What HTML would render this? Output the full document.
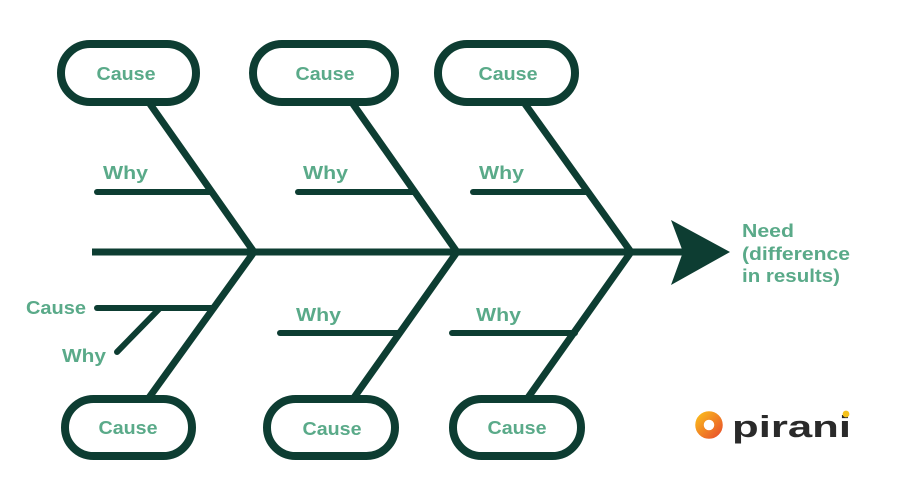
<!DOCTYPE html>
<html><head><meta charset="utf-8"><style>
html,body{margin:0;padding:0;background:#fff;}
svg{display:block;}
text{font-family:"Liberation Sans",sans-serif;font-weight:bold;fill:#5aaa89;font-size:18.5px;}
</style></head><body>
<svg width="900" height="500" viewBox="0 0 900 500" xmlns="http://www.w3.org/2000/svg">
<defs>
<linearGradient id="g" x1="0" y1="0" x2="1" y2="1">
<stop offset="0" stop-color="#f9b21d"/><stop offset="1" stop-color="#ea5a2a"/>
</linearGradient>
</defs>
<g fill="none" stroke="#0d3d32" stroke-width="8">
<rect x="61" y="44" width="135" height="58" rx="29"/>
<rect x="253" y="44" width="142" height="58" rx="29"/>
<rect x="438" y="44" width="137" height="58" rx="29"/>
<rect x="65" y="399" width="127" height="57" rx="28.5"/>
<rect x="267" y="399" width="128" height="57" rx="28.5"/>
<rect x="453" y="399" width="128" height="57" rx="28.5"/>
</g>
<g stroke="#0d3d32" stroke-width="7" stroke-linecap="butt" fill="none">
<line x1="92" y1="252" x2="690" y2="252"/>
<line x1="150" y1="104" x2="254" y2="252"/>
<line x1="353" y1="104" x2="457" y2="252"/>
<line x1="525" y1="104" x2="631" y2="252"/>
<line x1="254" y1="252" x2="148" y2="399"/>
<line x1="457" y1="252" x2="353" y2="399"/>
<line x1="631" y1="252" x2="527" y2="399"/>
</g>
<g stroke="#0d3d32" stroke-width="6" stroke-linecap="round" fill="none">
<line x1="97" y1="192" x2="212" y2="192"/>
<line x1="298" y1="192" x2="415" y2="192"/>
<line x1="473" y1="192" x2="588" y2="192"/>
<line x1="280" y1="333" x2="399" y2="333"/>
<line x1="452" y1="333" x2="575" y2="333"/>
<line x1="97" y1="308" x2="214" y2="308"/>
<line x1="160" y1="308" x2="117" y2="352"/>
</g>
<polygon points="671,220 730,252 671,285 683,252" fill="#0d3d32"/>

<text x="126" y="80" text-anchor="middle" textLength="59" lengthAdjust="spacingAndGlyphs">Cause</text>
<text x="325" y="80" text-anchor="middle" textLength="59" lengthAdjust="spacingAndGlyphs">Cause</text>
<text x="508" y="80" text-anchor="middle" textLength="59" lengthAdjust="spacingAndGlyphs">Cause</text>
<text x="128" y="434" text-anchor="middle" textLength="59" lengthAdjust="spacingAndGlyphs">Cause</text>
<text x="332" y="435" text-anchor="middle" textLength="59" lengthAdjust="spacingAndGlyphs">Cause</text>
<text x="517" y="434" text-anchor="middle" textLength="59" lengthAdjust="spacingAndGlyphs">Cause</text>

<text x="103" y="179" textLength="45" lengthAdjust="spacingAndGlyphs">Why</text>
<text x="303" y="179" textLength="45" lengthAdjust="spacingAndGlyphs">Why</text>
<text x="479" y="179" textLength="45" lengthAdjust="spacingAndGlyphs">Why</text>
<text x="296" y="321" textLength="45" lengthAdjust="spacingAndGlyphs">Why</text>
<text x="476" y="321" textLength="45" lengthAdjust="spacingAndGlyphs">Why</text>
<text x="26" y="314" textLength="60" lengthAdjust="spacingAndGlyphs">Cause</text>
<text x="62" y="362" textLength="44" lengthAdjust="spacingAndGlyphs">Why</text>

<text x="742" y="237" style="font-size:18px" textLength="52" lengthAdjust="spacingAndGlyphs">Need</text>
<text x="742" y="260" style="font-size:18px" textLength="108" lengthAdjust="spacingAndGlyphs">(difference</text>
<text x="742" y="282" style="font-size:18px" textLength="98" lengthAdjust="spacingAndGlyphs">in results)</text>

<circle cx="709" cy="425" r="9.5" fill="none" stroke="url(#g)" stroke-width="8.5"/>
<text x="732" y="437" style="fill:#2a2a2a;font-weight:bold;font-size:31px" textLength="119" lengthAdjust="spacingAndGlyphs">pirani</text>
<circle cx="846" cy="414" r="3.4" fill="#f5c21b"/>
</svg>
</body></html>
